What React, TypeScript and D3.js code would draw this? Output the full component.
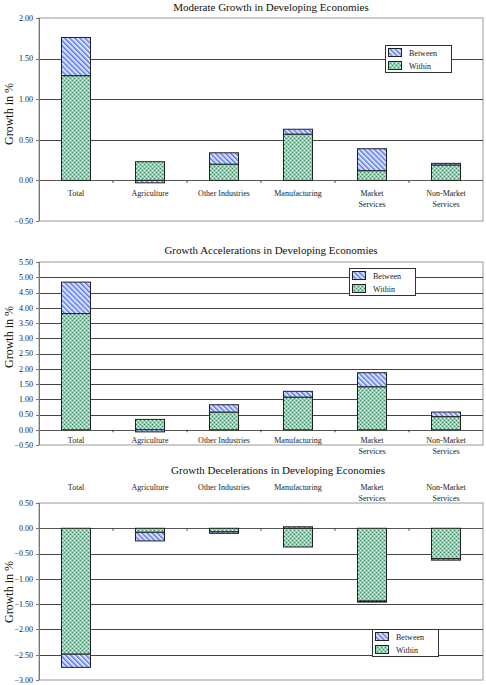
import React from 'react';
import * as d3 from 'd3';

const categories = ['Total', 'Agriculture', 'Other Industries', 'Manufacturing', 'Market Services', 'Non-Market Services'];
const categoryLines = [['Total'], ['Agriculture'], ['Other Industries'], ['Manufacturing'], ['Market', 'Services'], ['Non-Market', 'Services']];
const seriesNames = ['Between', 'Within'];

const moderateWithin = [1.29, 0.23, 0.2, 0.57, 0.12, 0.19];
const moderateBetween = [0.47, -0.03, 0.14, 0.06, 0.27, 0.02];
const moderateTicks = [2.0, 1.5, 1.0, 0.5, 0.0, -0.5];

const accelWithin = [3.81, 0.34, 0.58, 1.07, 1.41, 0.43];
const accelBetween = [1.03, -0.07, 0.24, 0.19, 0.46, 0.15];
const accelTicks = [5.5, 5.0, 4.5, 4.0, 3.5, 3.0, 2.5, 2.0, 1.5, 1.0, 0.5, 0.0, -0.5];

const decelWithin = [-2.49, -0.08, -0.07, -0.37, -1.44, -0.6];
const decelBetween = [-0.26, -0.17, -0.03, 0.03, -0.02, -0.03];
const decelTicks = [0.5, 0.0, -0.5, -1.0, -1.5, -2.0, -2.5, -3.0];

const FONT = '"Liberation Serif", "DejaVu Serif", serif';

type PanelProps = {
  title: string;
  titleX: number;
  titleY: number;
  within: number[];
  between: number[];
  ticks: number[];
  top: number;
  bottom: number;
  labelMode: 'inside' | 'top';
  labelY: number;
  legendX: number;
  legendY: number;
  yLabelY: number;
};

function Panel(p: PanelProps) {
  const left = 39;
  const right = 483;
  const domain = d3.extent(p.ticks) as [number, number];
  const y = d3.scaleLinear().domain(domain).range([p.bottom, p.top]);
  const x = d3.scaleBand<string>().domain(categories).range([left, right]).paddingInner(0).paddingOuter(0);
  const bw = 29;
  const y0 = y(0);

  const segs: { cat: string; lo: number; hi: number; kind: string }[] = [];
  categories.forEach((c, i) => {
    let pos = 0;
    let neg = 0;
    const put = (v: number, kind: string) => {
      if (v >= 0) {
        segs.push({ cat: c, lo: pos, hi: pos + v, kind });
        pos += v;
      } else {
        segs.push({ cat: c, lo: neg + v, hi: neg, kind });
        neg += v;
      }
    };
    put(p.within[i], 'Within');
    put(p.between[i], 'Between');
  });

  const boundaries = categories.slice(1).map((c) => x(c) as number);

  return (
    <g>
      <text x={p.titleX} y={p.titleY} textAnchor="middle" fontFamily={FONT} fontSize={11} fill="#111">
        {p.title}
      </text>
      {/* plot frame */}
      <rect x={left} y={p.top} width={right - left} height={p.bottom - p.top} fill="#fff" stroke="#999" strokeWidth={1} />
      {/* gridlines */}
      {p.ticks.map((t) =>
        t === domain[0] || t === domain[1] ? null : (
          <line key={t} x1={left} x2={right} y1={Math.round(y(t)) + 0.5} y2={Math.round(y(t)) + 0.5} stroke={t === 0 ? '#555' : '#444'} strokeWidth={1} />
        )
      )}
      {/* y axis */}
      <line x1={left + 0.5} x2={left + 0.5} y1={p.top} y2={p.bottom} stroke="#777" />
      {p.ticks.map((t) => (
        <g key={'t' + t}>
          <line x1={left - 3} x2={left} y1={Math.round(y(t)) + 0.5} y2={Math.round(y(t)) + 0.5} stroke="#777" />
          <text x={left - 6} y={y(t) + 2.8} textAnchor="end" fontFamily={FONT} fontSize={8} fill="#222">
            {d3.format('.2f')(t)}
          </text>
        </g>
      ))}
      <text
        transform={`translate(13,${p.yLabelY}) rotate(-90)`}
        textAnchor="middle"
        fontFamily={FONT}
        fontSize={12}
        fill="#111"
      >
        Growth in %
      </text>
      {/* category ticks */}
      {boundaries.map((b, i) => (
        <line key={'b' + i} x1={b} x2={b} y1={y0} y2={y0 + 2.5} stroke="#444" />
      ))}
      {/* bars */}
      {segs.map((s, i) => {
        const cx = (x(s.cat) as number) + x.bandwidth() / 2;
        const yt = y(s.hi);
        const yb = y(s.lo);
        return (
          <rect
            key={'s' + i}
            x={cx - bw / 2}
            y={yt}
            width={bw}
            height={Math.max(0.5, yb - yt)}
            fill={s.kind === 'Within' ? 'url(#withinPat)' : 'url(#betweenPat)'}
            stroke="#222"
            strokeWidth={1}
          />
        );
      })}
      {/* category labels */}
      {categories.map((c, i) => {
        const cx = (x(c) as number) + x.bandwidth() / 2;
        return (
          <text key={'c' + i} textAnchor="middle" fontFamily={FONT} fontSize={8} fill="#222">
            {categoryLines[i].map((ln, j) => (
              <tspan key={j} x={cx} y={p.labelY + j * 11}>
                {ln}
              </tspan>
            ))}
          </text>
        );
      })}
      {/* legend */}
      <g transform={`translate(${p.legendX},${p.legendY})`}>
        <rect x={0.5} y={0.5} width={66} height={27} fill="#fff" stroke="#333" />
        {seriesNames.map((n, i) => (
          <g key={n} transform={`translate(3,${3 + i * 13})`}>
            <rect x={0.5} y={0.5} width={13} height={8} fill={n === 'Within' ? 'url(#withinPat)' : 'url(#betweenPat)'} stroke="#222" />
            <text x={21} y={8} fontFamily={FONT} fontSize={8} fill="#222">
              {n}
            </text>
          </g>
        ))}
      </g>
    </g>
  );
}

export default function App() {
  return (
    <svg width={486} height={685} style={{ position: 'absolute', left: 0, top: 0, background: '#fff' }}>
      <defs>
        <pattern id="betweenPat" patternUnits="userSpaceOnUse" width={3.6} height={3.6} patternTransform="rotate(-45)">
          <rect x={0} y={0} width={3.6} height={3.6} fill="#eef2ff" />
          <rect x={0} y={0} width={1.4} height={3.6} fill="#4a6cf0" />
          <rect x={1.4} y={0} width={0.9} height={3.6} fill="#a9bbf8" />
        </pattern>
        <pattern id="withinPat" patternUnits="userSpaceOnUse" width={4} height={4}>
          <rect x={0} y={0} width={4} height={4} fill="#90d2b1" />
          <rect x={0} y={0} width={1} height={1} fill="#2f8f5f" />
          <rect x={2} y={2} width={1} height={1} fill="#2f8f5f" />
          <rect x={2} y={0} width={1} height={1} fill="#e8f7ef" />
          <rect x={0} y={2} width={1} height={1} fill="#e8f7ef" />
        </pattern>
      </defs>
      <Panel
        title="Moderate Growth in Developing Economies"
        titleX={271}
        titleY={11}
        within={moderateWithin}
        between={moderateBetween}
        ticks={moderateTicks}
        top={18}
        bottom={221}
        labelMode="inside"
        labelY={196}
        legendX={385}
        legendY={45}
        yLabelY={114}
      />
      <Panel
        title="Growth Accelerations in Developing Economies"
        titleX={271}
        titleY={254}
        within={accelWithin}
        between={accelBetween}
        ticks={accelTicks}
        top={262}
        bottom={445}
        labelMode="inside"
        labelY={443}
        legendX={349}
        legendY={268}
        yLabelY={337}
      />
      <Panel
        title="Growth Decelerations in Developing Economies"
        titleX={278}
        titleY={474}
        within={decelWithin}
        between={decelBetween}
        ticks={decelTicks}
        top={503}
        bottom={680}
        labelMode="top"
        labelY={490}
        legendX={372}
        legendY={629}
        yLabelY={592}
      />
    </svg>
  );
}
